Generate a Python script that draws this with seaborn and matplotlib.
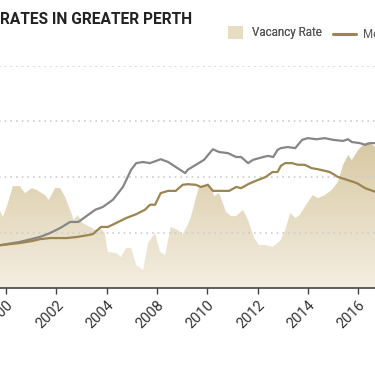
import numpy as np
import matplotlib
matplotlib.use("Agg")
import matplotlib.pyplot as plt
from matplotlib.colors import LinearSegmentedColormap
from matplotlib.patches import Patch
from matplotlib.lines import Line2D
import seaborn as sns

sns.set_theme(style="white")
plt.rcParams["font.family"] = ["Roboto", "DejaVu Sans"]

# x = period index (quarters from the first "2000" tick)
tick_pos = [0, 8, 16, 24, 32, 40, 48, 56]
tick_labels = ["2000", "2002", "2004", "2008", "2010", "2012", "2014", "2016"]

# vacancy rate (%)
vac_q = [-1.0, -0.5, 0.2, 1.1, 2.2, 3.0, 4.1, 4.9, 6.2, 6.8, 7.8, 8.6, 9.4, 10.2, 10.8,
         11.4, 12.2, 13.4, 14.2, 15.1, 15.7, 16.2, 17.5, 18.3, 19.1, 19.9, 20.7, 21.8,
         22.6, 23.7, 24.5, 25.3, 26.2, 27.3, 28.1, 28.9, 29.4, 30.2, 30.7, 31.5, 32.6,
         33.1, 33.9, 35.0, 35.8, 36.6, 37.7, 38.5, 39.4, 40.2, 41.3, 42.4, 43.2, 43.7,
         44.4, 45.2, 46.0, 46.7, 47.9, 48.8, 49.6, 50.7, 51.8, 52.8, 53.6, 54.4, 55.0,
         56.0, 57.1, 57.6, 58.8]
vac = [2.81, 2.56, 2.99, 3.67, 3.67, 3.42, 3.60, 3.53, 3.35, 3.17, 3.60, 3.60, 3.28, 2.81,
       2.45, 2.63, 2.34, 2.20, 2.09, 2.16, 1.98, 1.30, 1.26, 1.12, 1.44, 1.44, 0.83, 0.65,
       1.62, 1.98, 1.30, 1.19, 2.20, 2.09, 1.94, 2.27, 2.56, 3.24, 3.64, 3.71, 3.64, 3.31,
       3.42, 2.74, 2.59, 2.59, 2.81, 2.45, 1.84, 1.55, 1.55, 1.48, 1.62, 1.73, 2.09, 2.70,
       2.52, 2.63, 3.06, 3.35, 3.24, 3.35, 3.53, 3.82, 4.43, 4.79, 4.61, 4.97, 5.22, 5.26,
       5.08]

# median rent ($/week) - grey series
grey_q = [-1.0, 2.2, 5.4, 7.0, 8.6, 10.2, 11.5, 12.6, 14.2, 15.4, 17.0, 18.6, 19.9, 20.7,
          21.8, 22.9, 24.6, 25.8, 27.0, 28.5, 28.9, 30.2, 31.5, 32.9, 33.9, 35.3, 36.6,
          37.4, 38.5, 39.3, 40.9, 41.7, 42.5, 43.2, 43.7, 44.8, 46.0, 47.1, 48.0, 49.4,
          50.7, 52.0, 53.6, 54.4, 55.0, 56.3, 57.1, 57.9, 58.8]
grey_rent = [177, 183, 192, 199, 208, 219, 219, 228, 241, 246, 259, 282, 313, 325, 327, 325,
             332, 327, 318, 307, 313, 322, 331, 350, 345, 343, 336, 336, 325, 331, 336, 338,
             336, 349, 352, 354, 352, 367, 370, 368, 370, 367, 365, 368, 363, 361, 358, 361,
             361]

# median rent ($/week) - gold series
gold_q = [-1.0, 2.2, 4.3, 5.4, 7.0, 9.7, 11.3, 12.9, 13.8, 15.1, 16.2, 17.5, 19.1, 20.7,
          22.1, 22.9, 23.7, 24.6, 25.8, 27.0, 28.1, 28.9, 30.2, 31.0, 32.1, 32.9, 34.2,
          35.5, 36.6, 37.4, 38.5, 39.7, 41.3, 42.4, 43.2, 43.7, 44.4, 45.5, 46.4, 47.5,
          48.6, 49.6, 51.5, 52.8, 54.2, 55.8, 57.1, 58.8]
gold_rent = [177, 181, 185, 188, 190, 190, 192, 195, 197, 210, 210, 217, 226, 233, 241, 250,
             250, 271, 275, 275, 286, 287, 286, 282, 286, 275, 275, 275, 282, 280, 287, 293,
             300, 309, 309, 320, 325, 325, 322, 322, 316, 314, 309, 300, 295, 289, 280, 273]

GOLD = "#9b8550"
GREY = "#868686"
TEXT = "#333333"

fig = plt.figure(figsize=(3.75, 3.66), dpi=100)
ax = fig.add_axes([-0.0175, 0.2131, 1.0395, 0.6066])
XLIM = (-2, 60)

# vacancy area with vertical gradient
poly = ax.fill_between(vac_q, vac, 0, facecolor="none", edgecolor="none")
cmap = LinearSegmentedColormap.from_list("sand", ["#f4eee1", "#cab684"])
grad = ax.imshow(np.linspace(0, 1, 256).reshape(-1, 1), cmap=cmap, origin="lower",
                 extent=[XLIM[0], XLIM[1], 0, 8], aspect="auto", zorder=1)
grad.set_clip_path(poly.get_paths()[0], ax.transData)
ax.set_xlim(*XLIM)
ax.set_ylim(0, 8)

ax.set_yticks([2, 4, 6, 8])
ax.set_yticklabels([])
ax.tick_params(axis="y", left=False, length=0)
ax.grid(axis="y", color="#cdcdcd", linestyle=(0, (1, 2.4)), linewidth=1.2)
ax.grid(axis="x", visible=False)
ax.set_axisbelow(False)

ax.set_xticks(tick_pos)
ax.set_xticklabels(tick_labels, rotation=45, ha="right", rotation_mode="anchor",
                   fontsize=10.5, color=TEXT)
ax.tick_params(axis="x", bottom=True, length=4, width=1, color="#444444", pad=3)
for side in ["left", "right", "top"]:
    ax.spines[side].set_visible(False)
ax.spines["bottom"].set_color("#444444")
ax.spines["bottom"].set_linewidth(1.2)

# rent lines on a twin axis
ax2 = ax.twinx()
sns.lineplot(x=grey_q, y=grey_rent, ax=ax2, color=GREY, linewidth=1.6)
sns.lineplot(x=gold_q, y=gold_rent, ax=ax2, color=GOLD, linewidth=1.6)
ax2.set_ylim(100, 500)
ax2.set_xlim(*XLIM)
ax2.set_yticks([])
ax2.set_ylabel("")
for side in ["left", "right", "top", "bottom"]:
    ax2.spines[side].set_visible(False)

fig.text(0.0, 0.934, "RATES IN GREATER PERTH", fontsize=11.2, fontweight="bold",
         color="#222222", ha="left", va="baseline")

leg1 = fig.legend(handles=[Patch(facecolor="#e7dec2", edgecolor="none")],
                  labels=["Vacancy Rate"], loc="upper left",
                  bbox_to_anchor=(228 / 375, 1 - 26 / 366), frameon=False, fontsize=8.3,
                  borderpad=0, borderaxespad=0, handlelength=1.3, handleheight=1.4,
                  handletextpad=0.8, labelcolor="#555555")
leg2 = fig.legend(handles=[Line2D([], [], color=GOLD, lw=2.2), Line2D([], [], color=GREY, lw=2.2)],
                  labels=["Median Rent - Units", "Median Rent - Houses"], loc="upper left",
                  bbox_to_anchor=(333 / 375, 1 - 28 / 366), frameon=False, fontsize=8.3,
                  ncol=2, borderpad=0, borderaxespad=0, handlelength=2.0,
                  handletextpad=0.6, labelcolor="#555555")
fig.add_artist(leg1)

fig.savefig("out.png", dpi=100)
